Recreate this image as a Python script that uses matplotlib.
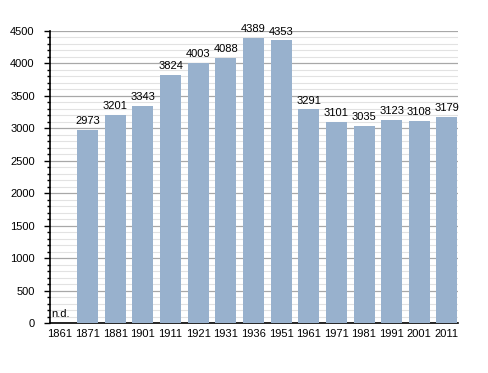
import matplotlib
matplotlib.use("Agg")
import matplotlib.pyplot as plt
from matplotlib.ticker import MultipleLocator

years = ["1861", "1871", "1881", "1901", "1911", "1921", "1931", "1936",
         "1951", "1961", "1971", "1981", "1991", "2001", "2011"]
population = [None, 2973, 3201, 3343, 3824, 4003, 4088, 4389,
              4353, 3291, 3101, 3035, 3123, 3108, 3179]

plt.rcParams['font.family'] = ['Liberation Sans', 'DejaVu Sans']

fig = plt.figure(figsize=(4.88, 3.73), dpi=100)
ax = fig.add_axes([0.1025, 0.134, 0.836, 0.783])

x = list(range(len(years)))
for i, v in enumerate(population):
    if v is None:
        # no data for this census
        ax.text(i - 0.3, 60, "n.d.", fontsize=8, ha="left", va="bottom")
        continue
    ax.bar(i, v, width=0.76, color="#98b1cd", zorder=3)
    ax.text(i, v + 60, str(v), fontsize=8, ha="center", va="bottom", zorder=4)

ax.set_xlim(-0.36, 14.4)
ax.set_ylim(0, 4500)
ax.set_xticks(x)
ax.set_xticklabels(years, fontsize=8)
ax.yaxis.set_major_locator(MultipleLocator(500))
ax.yaxis.set_minor_locator(MultipleLocator(100))
ax.tick_params(axis="y", labelsize=8, length=4, width=1, pad=7)
ax.tick_params(axis="y", which="minor", length=2, width=1)
ax.tick_params(axis="x", length=0, pad=4)

ax.grid(axis="y", which="major", color="#a8a8a8", linewidth=0.9, zorder=0)
ax.grid(axis="y", which="minor", color="#e2e2e2", linewidth=0.8, zorder=0)
ax.set_axisbelow(True)

for s in ["top", "right"]:
    ax.spines[s].set_visible(False)
ax.spines["left"].set_linewidth(1.2)
ax.spines["bottom"].set_linewidth(1.2)

fig.savefig("out.png", dpi=100)
